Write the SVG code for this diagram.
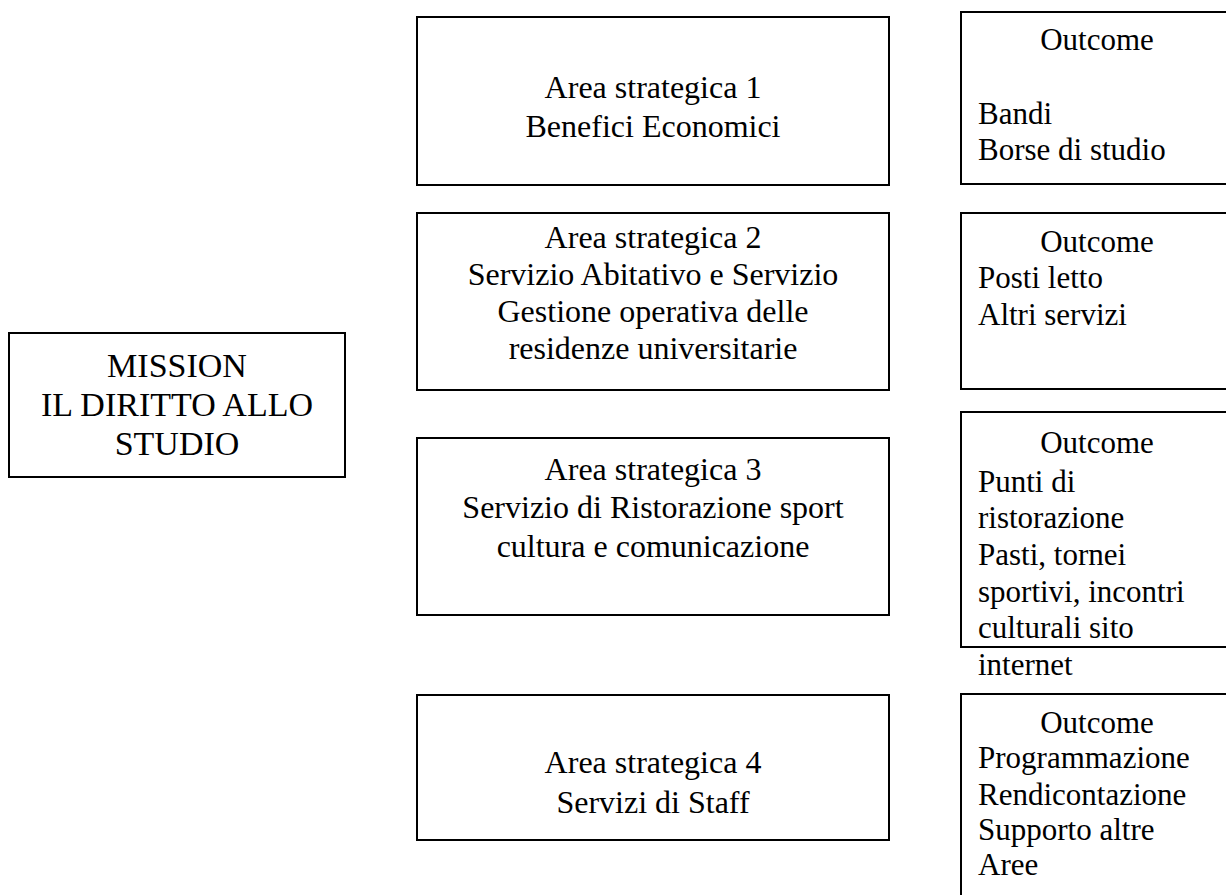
<svg xmlns="http://www.w3.org/2000/svg" width="1226" height="895" viewBox="0 0 1226 895">
<style>
  .box { fill: #ffffff; stroke: #000000; stroke-width: 2; }
  .t { font-family: "Liberation Serif", "Times New Roman", serif; fill: #000000; }
  .area { font-size: 32px; text-anchor: middle; }
  .mission { font-size: 34px; text-anchor: middle; }
  .out { font-size: 31px; }
  .oc { text-anchor: middle; }
</style>
<rect x="0" y="0" width="1226" height="895" fill="#ffffff"/>
<g id="connectors"></g>
<g id="mission">
  <rect class="box" x="9" y="333" width="336" height="144"/>
  <text class="t mission" x="177" y="377">MISSION</text>
  <text class="t mission" x="177" y="416">IL DIRITTO ALLO</text>
  <text class="t mission" x="177" y="455">STUDIO</text>
</g>
<g id="area1">
  <rect class="box" x="417" y="17" width="472" height="168"/>
  <text class="t area" x="653" y="98">Area strategica 1</text>
  <text class="t area" x="653" y="137">Benefici Economici</text>
</g>
<g id="area2">
  <rect class="box" x="417" y="213" width="472" height="177"/>
  <text class="t area" x="653" y="248">Area strategica 2</text>
  <text class="t area" x="653" y="285">Servizio Abitativo e Servizio</text>
  <text class="t area" x="653" y="322">Gestione operativa delle</text>
  <text class="t area" x="653" y="359">residenze universitarie</text>
</g>
<g id="area3">
  <rect class="box" x="417" y="438" width="472" height="177"/>
  <text class="t area" x="653" y="480">Area strategica 3</text>
  <text class="t area" x="653" y="518">Servizio di Ristorazione sport</text>
  <text class="t area" x="653" y="557">cultura e comunicazione</text>
</g>
<g id="area4">
  <rect class="box" x="417" y="695" width="472" height="145"/>
  <text class="t area" x="653" y="773">Area strategica 4</text>
  <text class="t area" x="653" y="813">Servizi di Staff</text>
</g>
<g id="outcome1">
  <rect class="box" x="961" y="12" width="290" height="172"/>
  <text class="t out oc" x="1097" y="50">Outcome</text>
  <text class="t out" x="978" y="124">Bandi</text>
  <text class="t out" x="978" y="160">Borse di studio</text>
</g>
<g id="outcome2">
  <rect class="box" x="961" y="213" width="290" height="176"/>
  <text class="t out oc" x="1097" y="252">Outcome</text>
  <text class="t out" x="978" y="288">Posti letto</text>
  <text class="t out" x="978" y="325">Altri servizi</text>
</g>
<g id="outcome3">
  <rect class="box" x="961" y="412" width="290" height="235"/>
  <text class="t out oc" x="1097" y="453">Outcome</text>
  <text class="t out" x="978" y="492">Punti di</text>
  <text class="t out" x="978" y="528">ristorazione</text>
  <text class="t out" x="978" y="565">Pasti, tornei</text>
  <text class="t out" x="978" y="602">sportivi, incontri</text>
  <text class="t out" x="978" y="638">culturali sito</text>
  <text class="t out" x="978" y="675">internet</text>
</g>
<g id="outcome4">
  <rect class="box" x="961" y="694" width="290" height="230"/>
  <text class="t out oc" x="1097" y="733">Outcome</text>
  <text class="t out" x="978" y="768">Programmazione</text>
  <text class="t out" x="978" y="805">Rendicontazione</text>
  <text class="t out" x="978" y="840">Supporto altre</text>
  <text class="t out" x="978" y="875">Aree</text>
</g>
</svg>
